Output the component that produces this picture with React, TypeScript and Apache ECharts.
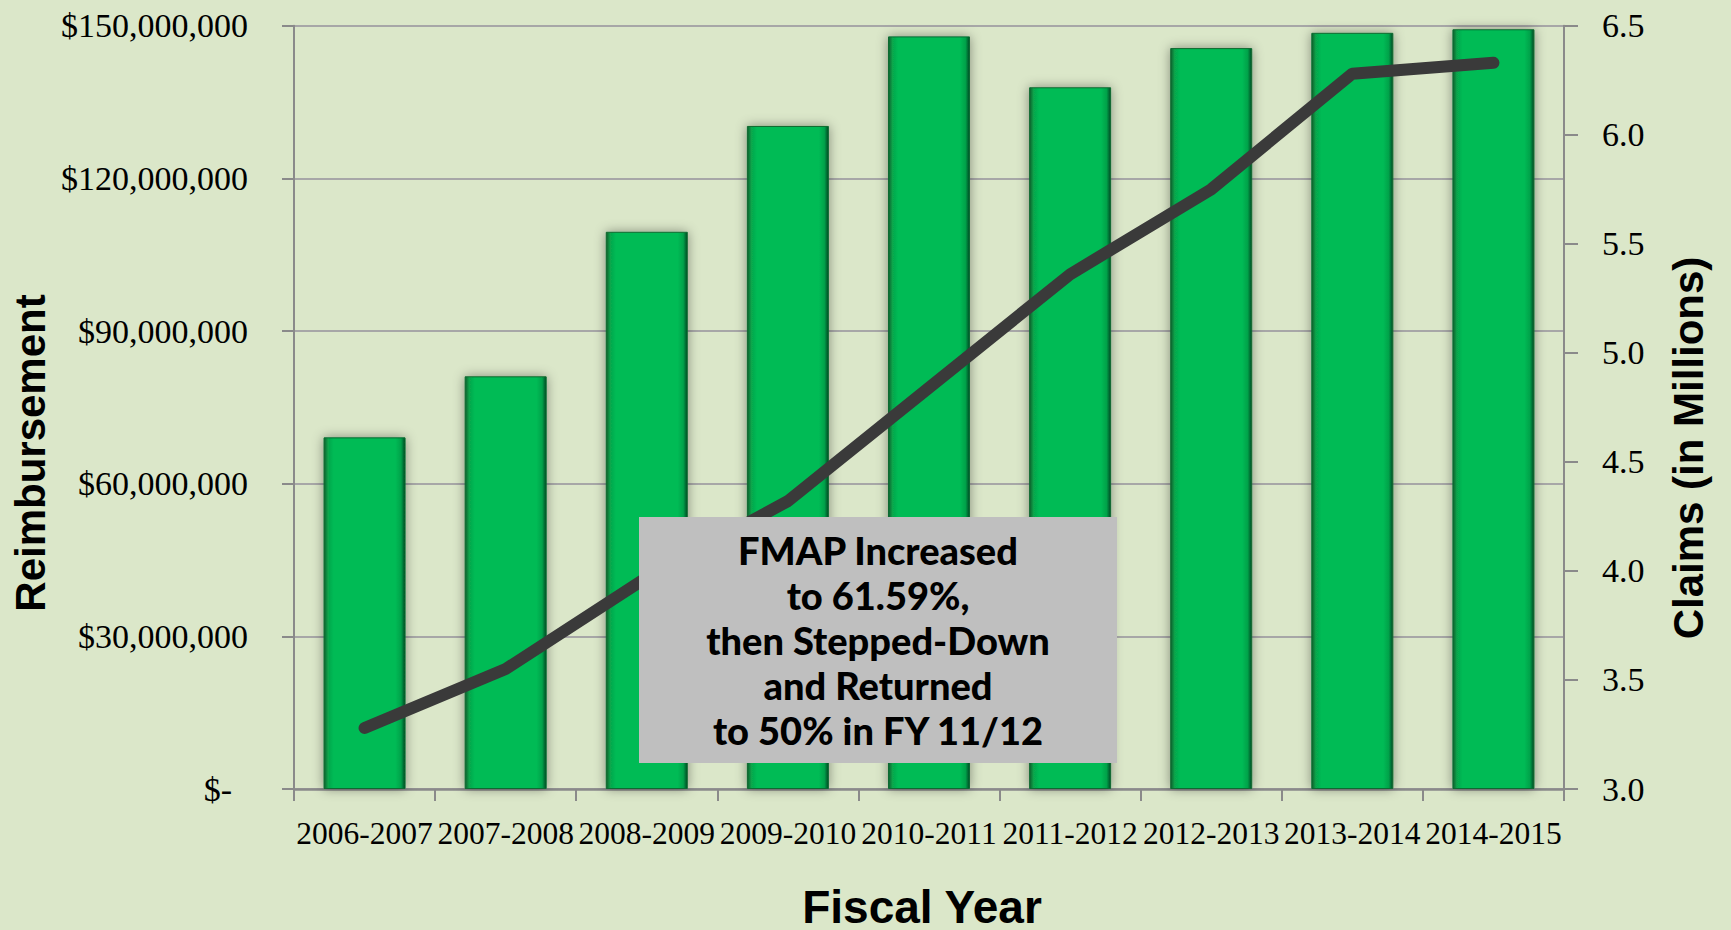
import React, { useEffect, useRef } from "react";
import * as echarts from "echarts";

const categories = [
  "2006-2007",
  "2007-2008",
  "2008-2009",
  "2009-2010",
  "2010-2011",
  "2011-2012",
  "2012-2013",
  "2013-2014",
  "2014-2015",
];
const reimbursement = [
  69100000, 81100000, 109500000, 130300000, 147900000, 137900000, 145600000,
  148600000, 149300000,
];
const claims = [3.28, 3.55, 3.97, 4.32, 4.84, 5.36, 5.75, 6.28, 6.33];

const leftAxisTitle = "Reimbursement";
const rightAxisTitle = "Claims (in Millions)";
const xAxisTitle = "Fiscal Year";
const noteLines = [
  "FMAP Increased",
  "to 61.59%,",
  "then Stepped-Down",
  "and Returned",
  "to 50% in FY 11/12",
];

export default function App() {
  const ref = useRef<HTMLDivElement>(null);
  useEffect(() => {
    document.body.style.margin = "0";
    document.body.style.overflow = "hidden";
    const chart = echarts.init(ref.current!, null, { renderer: "svg" });
    const serif = "'Liberation Serif', 'Times New Roman', serif";
    const sans = "'Liberation Sans', Arial, sans-serif";
    const axisGray = "#8a8a8a";
    chart.setOption({
      animation: false,
      backgroundColor: "#dbe7c9",
      grid: { left: 294, right: 167, top: 25.7, bottom: 141, containLabel: false },
      xAxis: {
        type: "category",
        data: categories,
        boundaryGap: true,
        axisLine: { show: true, lineStyle: { color: axisGray, width: 2.5 } },
        axisTick: { show: true, length: 12, lineStyle: { color: axisGray, width: 2 } },
        axisLabel: {
          interval: 0,
          margin: 28,
          color: "#000",
          fontFamily: serif,
          fontSize: 31.5,
        },
        splitLine: { show: false },
      },
      yAxis: [
        {
          type: "value",
          min: 0,
          max: 150000000,
          interval: 30000000,
          position: "left",
          axisLine: { show: true, lineStyle: { color: axisGray, width: 2 } },
          axisTick: { show: true, length: 12, lineStyle: { color: axisGray, width: 2 } },
          axisLabel: {
            margin: 46,
            color: "#000",
            fontFamily: serif,
            fontSize: 34,
            formatter: (v: number) =>
              v === 0 ? "{z|$-}" : "$" + v.toLocaleString("en-US"),
            rich: {
              z: {
                fontFamily: serif,
                fontSize: 34,
                color: "#000",
                padding: [0, 16, 0, 0],
              },
            },
          },
          splitLine: { show: true, lineStyle: { color: "#a7a7a7", width: 2 } },
        },
        {
          type: "value",
          min: 3.0,
          max: 6.5,
          interval: 0.5,
          position: "right",
          axisLine: { show: true, lineStyle: { color: axisGray, width: 2 } },
          axisTick: { show: true, length: 14, lineStyle: { color: axisGray, width: 2 } },
          axisLabel: {
            margin: 38,
            color: "#000",
            fontFamily: serif,
            fontSize: 34,
            formatter: (v: number) => v.toFixed(1),
          },
          splitLine: { show: false },
        },
      ],
      series: [
        {
          type: "bar",
          name: "Reimbursement",
          data: reimbursement,
          yAxisIndex: 0,
          barWidth: 82,
          itemStyle: {
            color: new echarts.graphic.LinearGradient(0, 0, 1, 0, [
              { offset: 0, color: "#0a5f2c" },
              { offset: 0.05, color: "#07a64c" },
              { offset: 0.12, color: "#04bb55" },
              { offset: 0.88, color: "#04bb55" },
              { offset: 0.95, color: "#06a24a" },
              { offset: 1, color: "#054a24" },
            ]),
            borderColor: "#0a6a30",
            borderWidth: 1,
            shadowColor: "rgba(0,0,0,0.4)",
            shadowBlur: 12,
            shadowOffsetX: 0,
            shadowOffsetY: 0,
          },
          z: 2,
        },
        {
          type: "line",
          name: "Claims",
          data: claims,
          yAxisIndex: 1,
          showSymbol: false,
          symbol: "none",
          lineStyle: { color: "#3a3a3a", width: 12, cap: "round", join: "round" },
          z: 3,
        },
      ],
      graphic: [
        {
          type: "rect",
          z: 100,
          shape: { x: 639, y: 517, width: 478, height: 246 },
          style: { fill: "#bfbfbf" },
        },
        {
          type: "text",
          z: 101,
          x: 878,
          y: 639.5,
          style: {
            text: noteLines.join("\n"),
            fontFamily: "Lato, 'Open Sans', sans-serif",
            fontWeight: 900,
            fontSize: 38,
            lineHeight: 45,
            fill: "#000",
            textAlign: "center",
            textVerticalAlign: "middle",
            align: "center",
            verticalAlign: "middle",
          },
        },
        {
          type: "text",
          z: 101,
          x: 30.5,
          y: 453,
          rotation: Math.PI / 2,
          style: {
            text: leftAxisTitle,
            fontFamily: sans,
            fontWeight: "bold",
            fontSize: 42,
            fill: "#000",
            textAlign: "center",
            textVerticalAlign: "middle",
            align: "center",
            verticalAlign: "middle",
          },
        },
        {
          type: "text",
          z: 101,
          x: 1688,
          y: 448,
          rotation: Math.PI / 2,
          style: {
            text: rightAxisTitle,
            fontFamily: sans,
            fontWeight: "bold",
            fontSize: 42,
            fill: "#000",
            textAlign: "center",
            textVerticalAlign: "middle",
            align: "center",
            verticalAlign: "middle",
          },
        },
        {
          type: "text",
          z: 101,
          x: 922,
          y: 907,
          style: {
            text: xAxisTitle,
            fontFamily: sans,
            fontWeight: "bold",
            fontSize: 46,
            fill: "#000",
            textAlign: "center",
            textVerticalAlign: "middle",
            align: "center",
            verticalAlign: "middle",
          },
        },
      ],
    });
    return () => {
      chart.dispose();
    };
  }, []);
  return <div ref={ref} style={{ width: 1731, height: 930 }} />;
}
